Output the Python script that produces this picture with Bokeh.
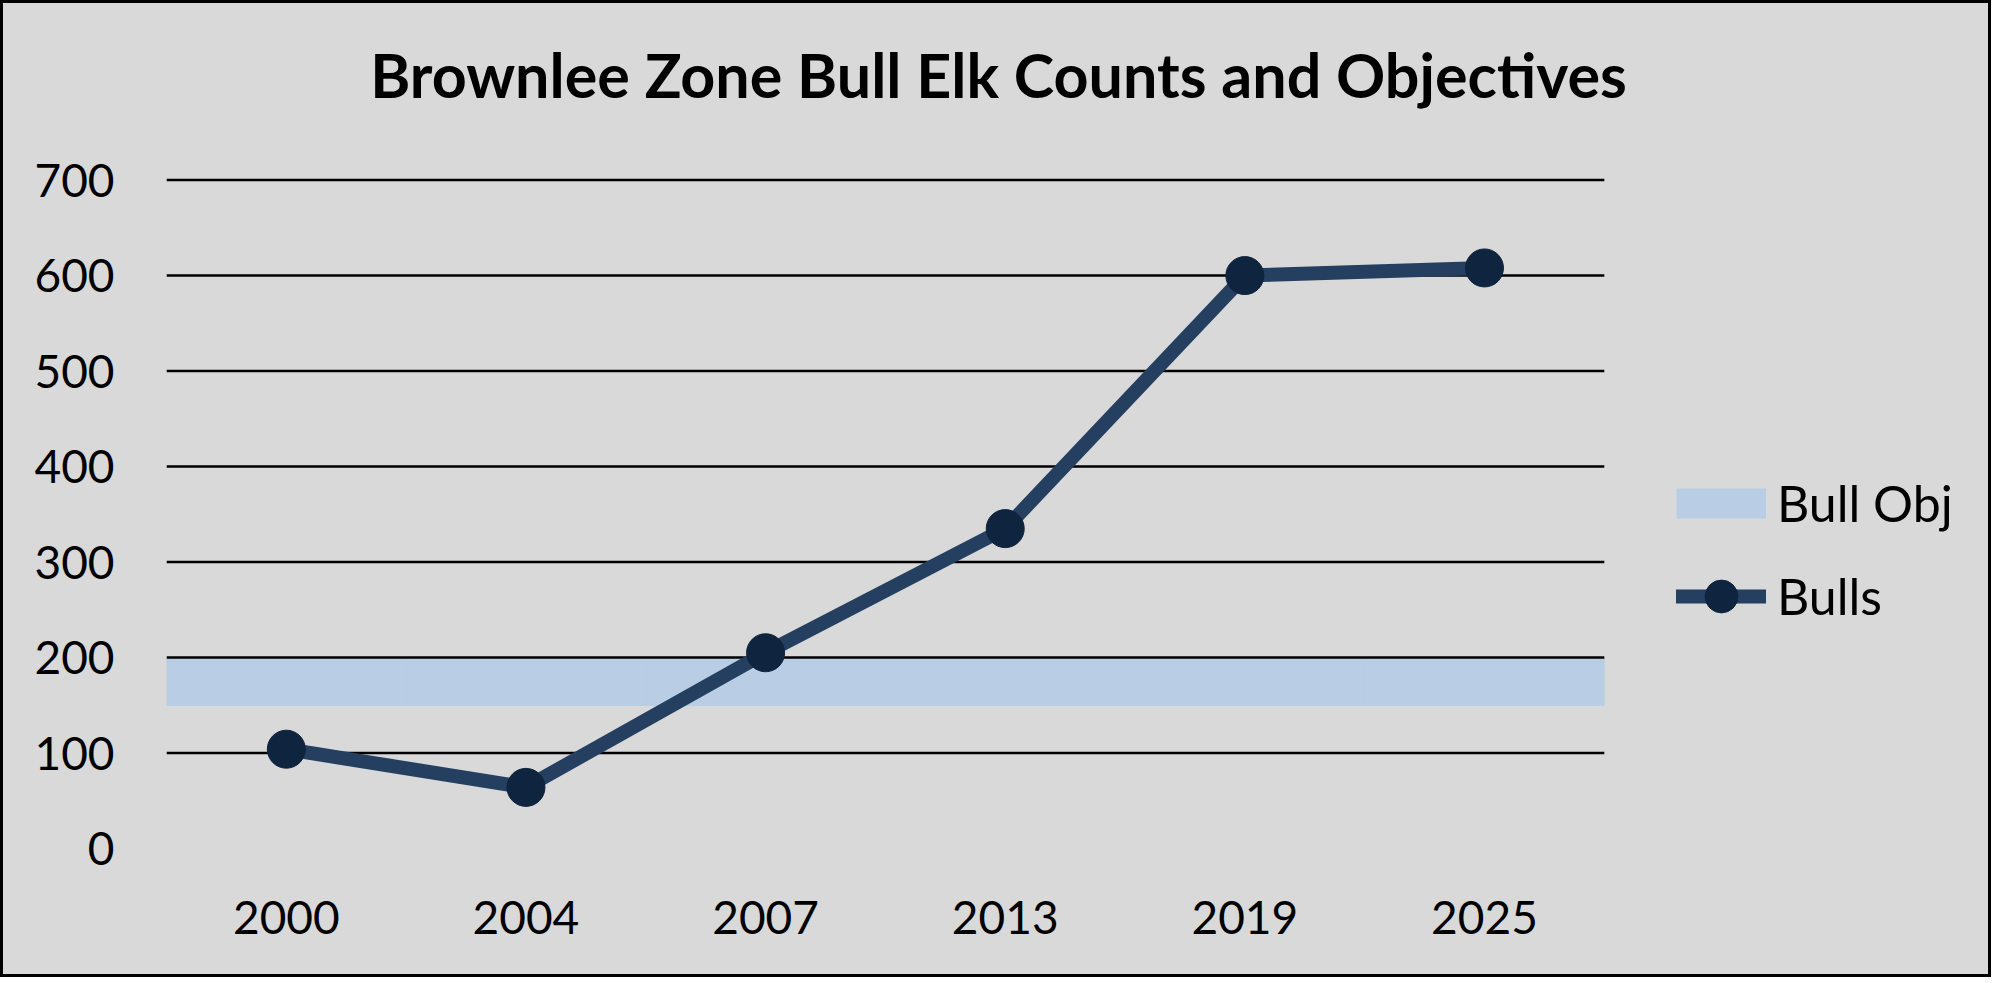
from bokeh.plotting import figure
from bokeh.models import (Range1d, FixedTicker, Legend, LegendItem, Label,
                          LinearAxis)
from bokeh.embed import file_html
from bokeh.resources import INLINE

# ---- data ----
years = ["2000", "2004", "2007", "2013", "2019", "2025"]
bulls = [104, 64, 205, 335, 600, 608]
bull_obj_low = [150, 150, 150, 150, 150, 150]
bull_obj_high = [200, 200, 200, 200, 200, 200]
y_ticks = [0, 100, 200, 300, 400, 500, 600, 700]
grid_ticks = [100, 200, 300, 400, 500, 600, 700]
title_text = "Brownlee Zone Bull Elk Counts and Objectives"

BG = "#d9d9d9"
LINE_C = "#243f60"
MARK_C = "#0f243e"
BAND_C = "#b9cde5"
FONT = "Lato"

# category slots: centre of slot i is i + 0.5
n = len(years)
xs = [i + 0.5 for i in range(n)]

BORDER = 3
W, H = 1997 - 2 * BORDER, 983 - 2 * BORDER
LEFT, BOTTOM = 166 - BORDER, 983 - BORDER - 848
frame_w = W - LEFT
frame_h = H - BOTTOM
px_per_cat = 1437.8 / n          # width of one category slot on the page
px_per_unit = 668.4 / 700.0      # vertical pixels per count
p = figure(width=W, height=H,
           x_range=Range1d(0, frame_w / px_per_cat),
           y_range=Range1d(0, frame_h / px_per_unit),
           output_backend="svg", toolbar_location=None,
           min_border_left=LEFT, min_border_right=0,
           min_border_top=0, min_border_bottom=BOTTOM,
           background_fill_color=BG, border_fill_color=BG,
           x_axis_type=None, y_axis_type=None, title=None)
p.outline_line_color = None
p.xgrid.visible = False
p.ygrid.visible = False
p.styles = {"border": f"{BORDER}px solid black", "background-color": BG}

# axes
xa = LinearAxis(ticker=FixedTicker(ticks=xs),
                major_label_overrides={x: y for x, y in zip(xs, years)})
ya = LinearAxis(ticker=FixedTicker(ticks=y_ticks))
for ax in (xa, ya):
    ax.axis_line_color = None
    ax.major_tick_line_color = None
    ax.minor_tick_line_color = None
    ax.major_tick_out = 0
    ax.major_tick_in = 0
    ax.major_label_text_font = FONT
    ax.major_label_text_font_size = "46px"
    ax.major_label_text_color = "black"
xa.major_label_standoff = 52
ya.major_label_standoff = 52
p.add_layout(xa, "below")
p.add_layout(ya, "left")

# objective band (one slot-wide bar per category)
band = p.vbar(x=xs, width=1.0, bottom=bull_obj_low, top=bull_obj_high,
              fill_color=BAND_C, line_color=BAND_C, line_width=1)

# horizontal gridlines across the category area
p.segment(x0=[0] * len(grid_ticks), x1=[n] * len(grid_ticks),
          y0=grid_ticks, y1=grid_ticks, line_color="black", line_width=2.5)

# legend key for the band
band_key = p.line(x=[xs[0]], y=[float("nan")], line_width=30,
                  line_color=BAND_C, line_cap="butt")

# bulls series
bl = p.line(x=xs, y=bulls, line_color=LINE_C, line_width=14, line_join="round",
            line_cap="round")
bm = p.scatter(x=xs, y=bulls, size=38, fill_color=MARK_C, line_color=MARK_C)

legend = Legend(items=[LegendItem(label="Bull Obj", renderers=[band_key]),
                       LegendItem(label="Bulls", renderers=[bl, bm])],
                location=(1510, 211), orientation="vertical",
                glyph_width=90, glyph_height=82, spacing=11,
                label_standoff=11, padding=0, margin=0,
                border_line_color=None, background_fill_alpha=0,
                label_text_font=FONT, label_text_font_size="50px",
                label_text_color="black")
p.add_layout(legend, "center")

title = Label(x=998 - 166, y=848 - 98 + 24, x_units="screen", y_units="screen",
              text=title_text, text_align="center", text_baseline="alphabetic",
              text_font=FONT, text_font_style="bold",
              text_font_size="61px", text_color="black")
p.add_layout(title)

open("out.html", "w").write(file_html(p, INLINE))
